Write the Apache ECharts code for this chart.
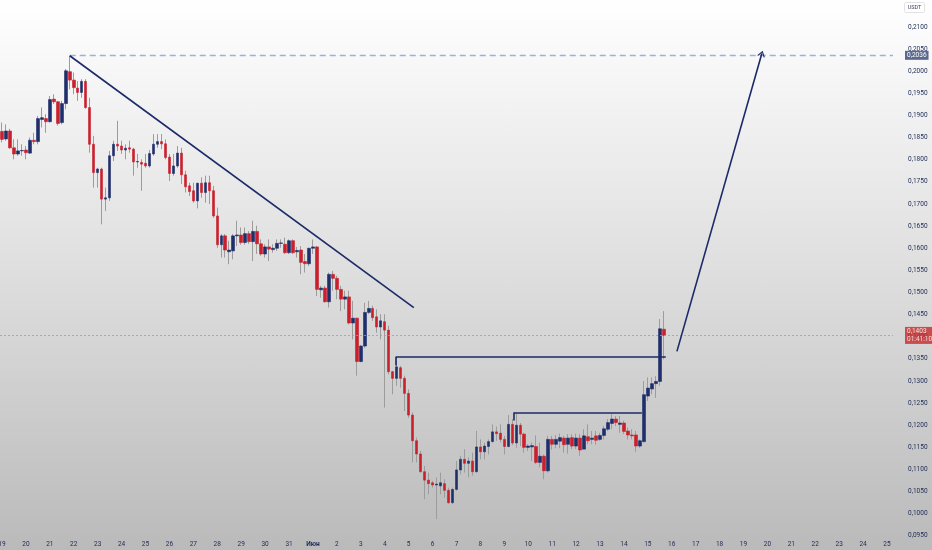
<!DOCTYPE html>
<html><head><meta charset="utf-8">
<script src="https://cdn.jsdelivr.net/npm/echarts@6/dist/echarts.min.js"></script>
<style>
html,body{margin:0;padding:0;background:#fff;}
#c{width:932px;height:550px;background:linear-gradient(to bottom,#ffffff 0%,#dedede 50%,#bababa 100%);}
</style>
</head><body><div id="c"></div>
<script>
// Day labels of the time scale (4h candles, 6 per day)
const dayLabels = ['19','20','21','22','23','24','25','26','27','28','29','30','31','Июн','2','3','4','5','6','7','8','9','10','11','12','13','14','15','16','17','18','19','20','21','22','23','24','25'];
const candlesPerDay = 6;
const slotCount = 224;

const opens = [
0.1864,0.1847,0.1865,0.1827,0.1813,0.1820,0.1822,0.1815,0.1844,0.1841,
0.1891,0.1893,0.1886,0.1937,0.1931,0.1884,0.1927,0.1999,0.1980,0.1962,
0.1952,0.1977,0.1918,0.1835,0.1771,0.1779,0.1711,0.1714,0.1809,0.1835,
0.1831,0.1822,0.1827,0.1824,0.1795,0.1794,0.1792,0.1786,0.1813,0.1835,
0.1841,0.1836,0.1806,0.1769,0.1786,0.1815,0.1766,0.1741,0.1730,0.1707,
0.1747,0.1726,0.1748,0.1730,0.1673,0.1608,0.1628,0.1592,0.1594,0.1628,
0.1630,0.1613,0.1633,0.1615,0.1638,0.1610,0.1587,0.1603,0.1597,0.1600,
0.1611,0.1609,0.1590,0.1617,0.1592,0.1596,0.1570,0.1565,0.1600,0.1603,
0.1506,0.1510,0.1479,0.1541,0.1532,0.1507,0.1485,0.1490,0.1431,0.1442,
0.1344,0.1379,0.1455,0.1464,0.1445,0.1422,0.1434,0.1415,0.1321,0.1306,
0.1330,0.1306,0.1272,0.1223,0.1165,0.1135,0.1095,0.1076,0.1070,0.1065,
0.1063,0.1068,0.1053,0.1025,0.1055,0.1099,0.1123,0.1114,0.1119,0.1095,
0.1151,0.1140,0.1152,0.1163,0.1185,0.1182,0.1168,0.1152,0.1202,0.1160,
0.1200,0.1180,0.1150,0.1151,0.1152,0.1116,0.1130,0.1097,0.1168,0.1157,
0.1164,0.1171,0.1157,0.1172,0.1153,0.1171,0.1146,0.1174,0.1168,0.1176,
0.1168,0.1177,0.1191,0.1204,0.1214,0.1202,0.1205,0.1187,0.1178,0.1178,
0.1153,0.1163,0.1266,0.1282,0.1294,0.1299,0.1417
];
const closes = [
0.1846,0.1865,0.1827,0.1813,0.1820,0.1821,0.1816,0.1844,0.1841,0.1893,
0.1895,0.1886,0.1936,0.1931,0.1882,0.1927,0.2001,0.1980,0.1963,0.1952,
0.1977,0.1918,0.1835,0.1771,0.1779,0.1711,0.1714,0.1809,0.1835,0.1831,
0.1822,0.1826,0.1824,0.1795,0.1796,0.1790,0.1786,0.1814,0.1835,0.1841,
0.1836,0.1805,0.1769,0.1786,0.1815,0.1766,0.1739,0.1728,0.1707,0.1747,
0.1726,0.1748,0.1730,0.1673,0.1608,0.1628,0.1596,0.1596,0.1628,0.1630,
0.1613,0.1633,0.1615,0.1638,0.1610,0.1587,0.1603,0.1598,0.1600,0.1611,
0.1612,0.1590,0.1617,0.1590,0.1595,0.1568,0.1565,0.1600,0.1603,0.1507,
0.1510,0.1479,0.1541,0.1532,0.1507,0.1485,0.1490,0.1431,0.1442,0.1344,
0.1379,0.1455,0.1464,0.1443,0.1422,0.1436,0.1415,0.1321,0.1306,0.1332,
0.1306,0.1272,0.1223,0.1165,0.1135,0.1095,0.1076,0.1068,0.1065,0.1067,
0.1070,0.1053,0.1025,0.1055,0.1099,0.1123,0.1114,0.1119,0.1095,0.1151,
0.1140,0.1153,0.1163,0.1185,0.1181,0.1168,0.1152,0.1202,0.1160,0.1200,
0.1180,0.1150,0.1153,0.1154,0.1116,0.1130,0.1097,0.1168,0.1157,0.1168,
0.1172,0.1156,0.1171,0.1153,0.1171,0.1144,0.1176,0.1165,0.1171,0.1166,
0.1177,0.1192,0.1206,0.1214,0.1206,0.1205,0.1186,0.1178,0.1176,0.1153,
0.1165,0.1269,0.1284,0.1294,0.1299,0.1418,0.1403
];
const lows = [
0.1839,0.1843,0.1825,0.1801,0.1809,0.1809,0.1801,0.1813,0.1835,0.1835,
0.1873,0.1861,0.1884,0.1926,0.1877,0.1880,0.1914,0.1959,0.1948,0.1933,
0.1940,0.1915,0.1816,0.1737,0.1737,0.1654,0.1684,0.1707,0.1797,0.1820,
0.1813,0.1801,0.1816,0.1764,0.1782,0.1730,0.1782,0.1782,0.1809,0.1827,
0.1824,0.1801,0.1752,0.1764,0.1782,0.1745,0.1726,0.1718,0.1703,0.1690,
0.1714,0.1703,0.1700,0.1669,0.1601,0.1579,0.1579,0.1564,0.1575,0.1605,
0.1608,0.1608,0.1610,0.1571,0.1587,0.1583,0.1579,0.1571,0.1590,0.1594,
0.1601,0.1587,0.1587,0.1587,0.1579,0.1541,0.1545,0.1560,0.1587,0.1492,
0.1488,0.1477,0.1466,0.1504,0.1485,0.1458,0.1462,0.1428,0.1394,0.1312,
0.1342,0.1375,0.1451,0.1436,0.1409,0.1394,0.1240,0.1315,0.1270,0.1289,
0.1285,0.1232,0.1217,0.1116,0.1116,0.1093,0.1033,0.1044,0.1059,0.0988,
0.1044,0.1036,0.1022,0.1022,0.1052,0.1089,0.1093,0.1082,0.1086,0.1093,
0.1123,0.1123,0.1134,0.1161,0.1165,0.1161,0.1134,0.1150,0.1155,0.1149,
0.1153,0.1138,0.1142,0.1119,0.1112,0.1105,0.1078,0.1093,0.1145,0.1148,
0.1148,0.1138,0.1136,0.1146,0.1146,0.1131,0.1146,0.1157,0.1157,0.1156,
0.1165,0.1168,0.1187,0.1191,0.1198,0.1183,0.1180,0.1168,0.1168,0.1140,
0.1149,0.1161,0.1255,0.1270,0.1262,0.1289,0.1349
];
const highs = [
0.1884,0.1880,0.1870,0.1846,0.1846,0.1835,0.1831,0.1850,0.1861,0.1899,
0.1918,0.1903,0.1944,0.1948,0.1933,0.1933,0.2005,0.2035,0.1997,0.1978,
0.1982,0.1982,0.1940,0.1854,0.1782,0.1782,0.1737,0.1820,0.1843,0.1888,
0.1843,0.1835,0.1843,0.1827,0.1813,0.1801,0.1813,0.1822,0.1858,0.1858,
0.1858,0.1846,0.1813,0.1813,0.1831,0.1827,0.1775,0.1748,0.1748,0.1748,
0.1760,0.1764,0.1764,0.1741,0.1692,0.1632,0.1632,0.1617,0.1632,0.1662,
0.1647,0.1647,0.1639,0.1662,0.1651,0.1620,0.1609,0.1620,0.1609,0.1620,
0.1620,0.1624,0.1620,0.1620,0.1603,0.1605,0.1587,0.1601,0.1620,0.1605,
0.1515,0.1515,0.1545,0.1549,0.1538,0.1515,0.1504,0.1504,0.1481,0.1443,
0.1381,0.1477,0.1481,0.1470,0.1462,0.1451,0.1451,0.1425,0.1323,0.1353,
0.1334,0.1312,0.1281,0.1229,0.1172,0.1142,0.1108,0.1093,0.1074,0.1082,
0.1093,0.1078,0.1059,0.1059,0.1119,0.1131,0.1146,0.1127,0.1138,0.1187,
0.1168,0.1161,0.1168,0.1202,0.1197,0.1202,0.1176,0.1223,0.1214,0.1227,
0.1205,0.1183,0.1157,0.1161,0.1177,0.1161,0.1134,0.1176,0.1176,0.1178,
0.1181,0.1176,0.1180,0.1180,0.1181,0.1180,0.1191,0.1202,0.1187,0.1187,
0.1183,0.1198,0.1214,0.1225,0.1221,0.1221,0.1210,0.1195,0.1191,0.1187,
0.1168,0.1300,0.1308,0.1308,0.1311,0.1440,0.1458
];

// Price scale
const yMin = 0.09, yMax = 0.2161, yStep = 0.005;
const lastPrice = 0.1403, lastPriceText = '0,1403', countdownText = '01:41:10';
const targetPrice = 0.2036, targetText = '0,2036';

// Drawn annotations, in [candle index, price]
const trendLine = [[17, 0.2035], [103.3, 0.1466]];
const breakoutLine = [[98.8, 0.1355], [166.5, 0.1355]];
const breakoutTick = [[98.8, 0.1355], [98.8, 0.1335]];
const rangeLine = [[128.4, 0.1229], [160.5, 0.1229]];
const rangeTick = [[128.4, 0.1229], [128.4, 0.1211]];
const arrowLine = [[169.3, 0.1367], [190.6, 0.2040]];
const targetLineStart = 17;

const cats = [];
for (let i = 0; i < slotCount; i++) cats.push(i % candlesPerDay === 0 ? (dayLabels[i / candlesPerDay] || '') : '');

const wickData = opens.map((o, i) => [o, closes[i], lows[i], highs[i]]);
const bodyData = opens.map((o, i) => [o, closes[i], Math.min(o, closes[i]), Math.max(o, closes[i])]);

const NAVY = '#1f2f6b', RED = '#c9202b', LINE = '#1b2a68', TXT = '#1f2a55';
const FONT = 'Roboto';

function seg(p, extra) {
  return [Object.assign({coord: p[0]}, extra || {}), {coord: p[1]}];
}

const chart = echarts.init(document.getElementById('c'), null, {renderer: 'canvas'});
chart.setOption({
  animation: false,
  backgroundColor: 'transparent',
  textStyle: {fontFamily: FONT},
  grid: {left: 0, right: 39, top: 0, height: 558, containLabel: false, outerBoundsMode: 'none'},
  xAxis: [{
    type: 'category', data: cats, boundaryGap: true,
    axisLine: {show: false}, axisTick: {show: false}, splitLine: {show: false},
    axisLabel: {
      inside: true, margin: 10, interval: (idx) => idx % candlesPerDay === 0,
      color: TXT, fontSize: 6.5, fontFamily: FONT,
      formatter: (v) => v === 'Июн' ? '{b|Июн}' : v,
      rich: {b: {fontWeight: 'bold', fontSize: 6.5, color: TXT, fontFamily: FONT}}
    }
  }, {
    type: 'value', min: -0.5, max: slotCount - 0.5, show: false
  }],
  yAxis: [{
    type: 'value', position: 'right', min: yMin, max: yMax, interval: yStep,
    axisLine: {show: false}, axisTick: {show: false}, splitLine: {show: false},
    axisLabel: {
      margin: 15, color: TXT, fontSize: 6.5, fontFamily: FONT,
      formatter: (v) => (v > 0.2125 || v < 0.0925) ? '' : v.toFixed(4).replace('.', ',')
    }
  }],
  series: [{
    type: 'candlestick', name: 'wick', xAxisIndex: 0, yAxisIndex: 0,
    data: wickData, barWidth: 1, silent: true,
    itemStyle: {color: '#9c9c9c', color0: '#9c9c9c', borderColor: '#9c9c9c', borderColor0: '#9c9c9c', borderWidth: 1}
  }, {
    type: 'candlestick', name: 'body', xAxisIndex: 0, yAxisIndex: 0,
    data: bodyData, barWidth: 3, silent: true,
    itemStyle: {color: NAVY, color0: RED, borderColor: NAVY, borderColor0: RED, borderWidth: 0.6}
  }, {
    type: 'line', name: 'drawings', xAxisIndex: 1, yAxisIndex: 0, data: [],
    markLine: {
      silent: true, animation: false, symbol: ['none', 'none'],
      label: {show: false},
      lineStyle: {color: LINE, width: 1.6, type: 'solid'},
      data: [
        seg([[-0.5, lastPrice], [slotCount - 0.5, lastPrice]], {
          lineStyle: {color: '#f07a7a', width: 1, type: [2, 2], opacity: 0.8},
          label: {show: true, position: 'end', distance: 12, formatter: lastPriceText + '\n' + countdownText,
            backgroundColor: '#c62a2a', color: '#ffffff', fontSize: 6.5, lineHeight: 7.5, padding: [1, 2], fontFamily: FONT}
        }),
        seg([[targetLineStart, targetPrice], [slotCount - 0.5, targetPrice]], {
          lineStyle: {color: '#9fb0d6', width: 1.3, type: [6, 4]},
          label: {show: true, position: 'end', distance: 12, formatter: targetText,
            backgroundColor: '#5a6a8e', color: '#ffffff', fontSize: 6.5, padding: [1, 2], fontFamily: FONT}
        }),
        seg(trendLine),
        seg(breakoutLine),
        seg(breakoutTick),
        seg(rangeLine),
        seg(rangeTick),
        [{coord: arrowLine[0], symbol: 'none'},
         {coord: arrowLine[1], symbol: 'path://M0,10L5,0L10,10L8.4,10L5,3.2L1.6,10Z', symbolSize: [8, 6]}]
      ]
    }
  }],
  graphic: [{
    type: 'group', right: 7, top: 2,
    children: [
      {type: 'rect', shape: {x: 0, y: 0, width: 20, height: 10, r: 1}, style: {fill: '#ffffff', stroke: '#e3e3e3', lineWidth: 1}},
      {type: 'text', x: 10, y: 5, style: {text: 'USDT', fontSize: 5.5, fontFamily: FONT, fill: '#3a3f55', align: 'center', verticalAlign: 'middle'}}
    ]
  }]
});
</script>
</body></html>
